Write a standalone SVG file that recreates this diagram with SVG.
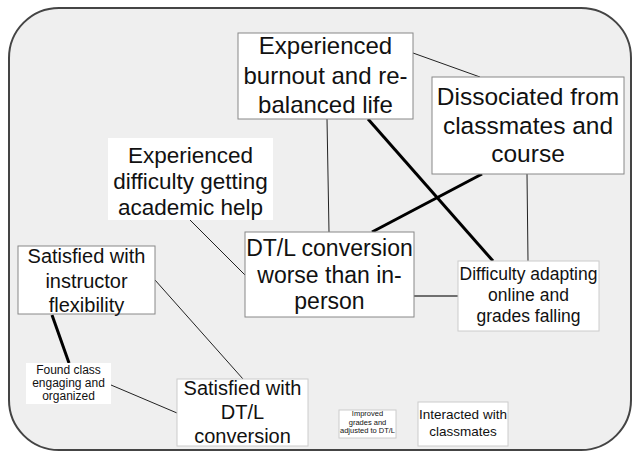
<svg xmlns="http://www.w3.org/2000/svg" width="634" height="455" viewBox="0 0 634 455">
<style>
.bg{fill:#efefef;stroke:#444;stroke-width:2}
.box{fill:#fff;stroke:#888;stroke-width:1}
.lbox{fill:#fff;stroke:#ccc;stroke-width:1}
.nbox{fill:#fff;stroke:none}
text{font-family:"Liberation Sans",Arial,sans-serif;fill:#111;text-anchor:middle}
.thin{stroke:#222;stroke-width:1;fill:none}
.thick{stroke:#000;stroke-width:3;fill:none}
.mid{stroke:#444;stroke-width:1.6;fill:none}
</style>
<rect class="bg" x="9" y="8" width="622" height="442" rx="50" ry="50"/>
<g id="connectors">
<line class="thin" x1="413" y1="53" x2="480" y2="77"/>
<line class="thin" x1="327" y1="119" x2="329" y2="232"/>
<line class="thick" x1="368" y1="119" x2="493" y2="261"/>
<line class="thick" x1="482" y1="174" x2="372" y2="232"/>
<line class="thin" x1="527" y1="174" x2="528" y2="261"/>
<line class="thin" x1="190" y1="220" x2="245" y2="275"/>
<line class="mid" x1="414" y1="296" x2="458" y2="296"/>
<line class="thin" x1="155" y1="280" x2="243" y2="379"/>
<line class="thick" x1="52" y1="315" x2="69" y2="363"/>
<line class="thin" x1="111" y1="385" x2="177" y2="413"/>
</g>
<g id="burnout">
<rect class="box" x="238" y="33" width="175" height="86"/>
<text font-size="24"><tspan x="325.5" y="54">Experienced</tspan><tspan x="325.5" y="84">burnout and re-</tspan><tspan x="325.5" y="113">balanced life</tspan></text>
</g>
<g id="dissociated">
<rect class="box" x="432" y="77" width="192" height="97"/>
<text font-size="24.5"><tspan x="528" y="105">Dissociated from</tspan><tspan x="528" y="134">classmates and</tspan><tspan x="528" y="162">course</tspan></text>
</g>
<g id="academic-help">
<rect class="nbox" x="108" y="138" width="165" height="82"/>
<text font-size="22.5"><tspan x="190.5" y="163">Experienced</tspan><tspan x="190.5" y="189">difficulty getting</tspan><tspan x="190.5" y="215">academic help</tspan></text>
</g>
<g id="worse">
<rect class="box" x="245" y="232" width="169" height="85"/>
<text font-size="23"><tspan x="329.5" y="256">DT/L conversion</tspan><tspan x="329.5" y="283">worse than in-</tspan><tspan x="329.5" y="309">person</tspan></text>
</g>
<g id="difficulty-adapting">
<rect class="lbox" x="458" y="261" width="141" height="70"/>
<text font-size="17.5"><tspan x="528.5" y="280">Difficulty adapting</tspan><tspan x="528.5" y="301">online and</tspan><tspan x="528.5" y="322">grades falling</tspan></text>
</g>
<g id="instructor-flex">
<rect class="box" x="18" y="246" width="137" height="68"/>
<text font-size="20"><tspan x="86.5" y="263">Satisfied with</tspan><tspan x="86.5" y="288">instructor</tspan><tspan x="86.5" y="312">flexibility</tspan></text>
</g>
<g id="engaging">
<rect class="nbox" x="26" y="363" width="85" height="41"/>
<text font-size="12"><tspan x="68.5" y="374">Found class</tspan><tspan x="68.5" y="387">engaging and</tspan><tspan x="68.5" y="400">organized</tspan></text>
</g>
<g id="satisfied-dtl">
<rect class="lbox" x="177" y="379" width="131" height="67"/>
<text font-size="20"><tspan x="242.5" y="395">Satisfied with</tspan><tspan x="242.5" y="419">DT/L</tspan><tspan x="242.5" y="443">conversion</tspan></text>
</g>
<g id="improved">
<rect class="lbox" x="339" y="410" width="57" height="28"/>
<text font-size="7.5"><tspan x="367.5" y="416">Improved</tspan><tspan x="367.5" y="424.5">grades and</tspan><tspan x="367.5" y="433">adjusted to DT/L</tspan></text>
</g>
<g id="interacted">
<rect class="lbox" x="418" y="402" width="90" height="44"/>
<text font-size="13.5"><tspan x="463" y="419">Interacted with</tspan><tspan x="463" y="436">classmates</tspan></text>
</g>
</svg>
